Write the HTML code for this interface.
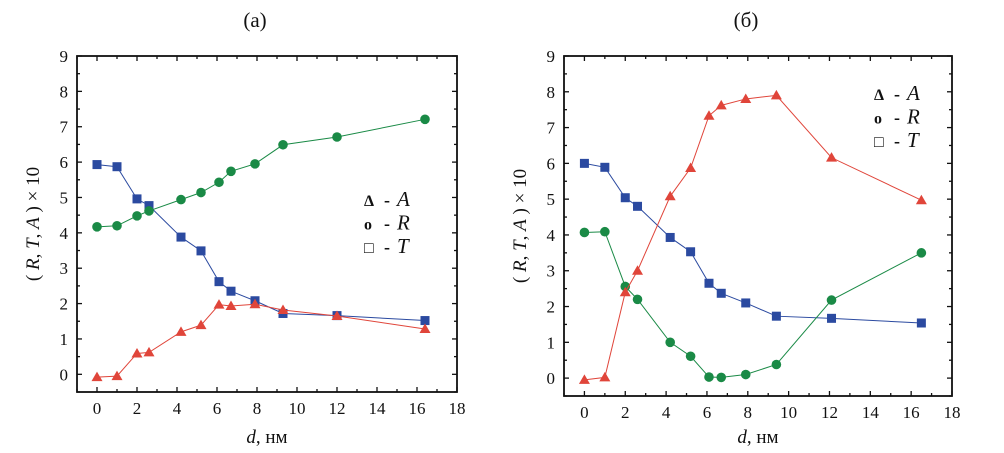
<!DOCTYPE html>
<html><head><meta charset="utf-8"><style>
body{margin:0;background:#fff;}
svg text{font-family:"Liberation Serif",serif;fill:#111;}
</style></head><body>
<svg id="c" width="1004" height="448" xmlns="http://www.w3.org/2000/svg"></svg>
<script>
const xTicks=[0,2,4,6,8,10,12,14,16,18];
const yTicks=[0,1,2,3,4,5,6,7,8,9];
const xA=[0,1,2,2.6,4.2,5.2,6.1,6.7,7.9,9.3,12,16.4];
const tA=[5.93,5.87,4.96,4.77,3.88,3.49,2.62,2.35,2.08,1.72,1.66,1.52];
const rA=[4.17,4.2,4.48,4.62,4.94,5.14,5.43,5.74,5.95,6.49,6.71,7.21];
const aA=[-0.08,-0.05,0.59,0.62,1.2,1.39,1.97,1.93,1.98,1.82,1.65,1.28];
const xB=[0,1,2,2.6,4.2,5.2,6.1,6.7,7.9,9.4,12.1,16.5];
const tB=[6.0,5.89,5.04,4.8,3.93,3.53,2.65,2.37,2.1,1.73,1.67,1.54];
const rB=[4.07,4.09,2.56,2.2,1.0,0.61,0.03,0.02,0.1,0.38,2.18,3.5];
const aB=[-0.05,0.02,2.4,3.0,5.08,5.87,7.33,7.62,7.8,7.9,6.16,4.97];
const NS="http://www.w3.org/2000/svg";
const svg=document.getElementById('c');
function el(tag,attrs,parent,text){const e=document.createElementNS(NS,tag);for(const k in attrs)e.setAttribute(k,attrs[k]);if(text!==undefined)e.textContent=text;(parent||svg).appendChild(e);return e;}
function panel(P){
  const g=el('g',{});
  
  
  const sx=v=>P.l+(v+1)/19*(P.r-P.l);
  const sy=v=>P.b-(v+0.5)/9.5*(P.b-P.t);
  for(let v=-1;v<=18;v++){const major=v%2===0&&v>=0;const len=major?5:3;const x=sx(v);
    el('line',{x1:x,y1:P.b,x2:x,y2:P.b-len,stroke:'#111','stroke-width':1.3},g);
    el('line',{x1:x,y1:P.t,x2:x,y2:P.t+len,stroke:'#111','stroke-width':1.3},g);}
  for(let v=-0.5;v<=9;v+=0.5){const major=Number.isInteger(v);const len=major?5:3;const y=sy(v);
    el('line',{x1:P.l,y1:y,x2:P.l+len,y2:y,stroke:'#111','stroke-width':1.3},g);
    el('line',{x1:P.r,y1:y,x2:P.r-len,y2:y,stroke:'#111','stroke-width':1.3},g);}
  xTicks.forEach(v=>{const t=el('text',{x:sx(v),y:P.b+22,'font-size':17,'text-anchor':'middle'},g,String(v));
    });
  yTicks.forEach(v=>{const t=el('text',{x:P.l-9,y:sy(v)+6,'font-size':17,'text-anchor':'end'},g,String(v));
    });
  const fr=el('rect',{x:P.l,y:P.t,width:P.r-P.l,height:P.b-P.t,fill:'none',stroke:'#111','stroke-width':1.8},g);
  
  const series=[[P.t_,'#2b4aa0','sq','series-t'],[P.r_,'#1a8a46','ci','series-r'],[P.a_,'#e0453a','tr','series-a']];
  series.forEach(([ys,col,m,nm])=>{
    const sg=el('g',{},g);
    el('polyline',{points:P.x.map((x,i)=>sx(x)+','+sy(ys[i])).join(' '),fill:'none',stroke:col,'stroke-width':1},sg);
    P.x.forEach((x,i)=>{const cx=sx(x),cy=sy(ys[i]);let mk;
      if(m==='sq')mk=el('rect',{x:cx-4.5,y:cy-4.5,width:9,height:9,fill:col},sg);
      else if(m==='ci')mk=el('circle',{cx:cx,cy:cy,r:4.8,fill:col},sg);
      else mk=el('polygon',{points:`${cx},${cy-5.5} ${cx+5.5},${cy+4} ${cx-5.5},${cy+4}`,fill:col},sg);
      });
  });
  const tt=el('text',{x:(P.l+P.r)/2-12,y:27,'font-size':21,'text-anchor':'middle'},g,P.title);
  
  const yl=el('text',{transform:`translate(${P.l-38},${(P.t+P.b)/2}) rotate(-90)`,'font-size':19,'text-anchor':'middle'},g);
  
  yl.innerHTML='( <tspan font-style="italic">R</tspan>, <tspan font-style="italic">T</tspan>, <tspan font-style="italic">A</tspan> ) × 10';
  const xl=el('text',{x:(P.l+P.r)/2,y:443,'font-size':19,'text-anchor':'middle'},g);
  
  xl.innerHTML='<tspan font-style="italic">d</tspan>, нм';
  const lg=el('g',{},g);
  const L=[['Δ','A'],['o','R'],['□','T']];
  L.forEach(([s,n],i)=>{const y=P.ly+i*23.5;
    el('text',{x:P.lx,y:y,'font-size':16,'font-weight':'bold','font-family':'Liberation Sans'},lg,s);
    el('text',{x:P.lx+20,y:y,'font-size':18,'font-weight':'bold'},lg,'-');
    el('text',{x:P.lx+33,y:y,'font-size':21,'font-style':'italic'},lg,n);});
}
panel({name:'panel-a',l:77,r:457,t:56,b:392,x:xA,t_:tA,r_:rA,a_:aA,title:'(a)',lx:364,ly:206});
panel({name:'panel-b',l:564,r:952,t:56,b:396,x:xB,t_:tB,r_:rB,a_:aB,title:'(б)',lx:874,ly:100});
</script>
</body></html>
